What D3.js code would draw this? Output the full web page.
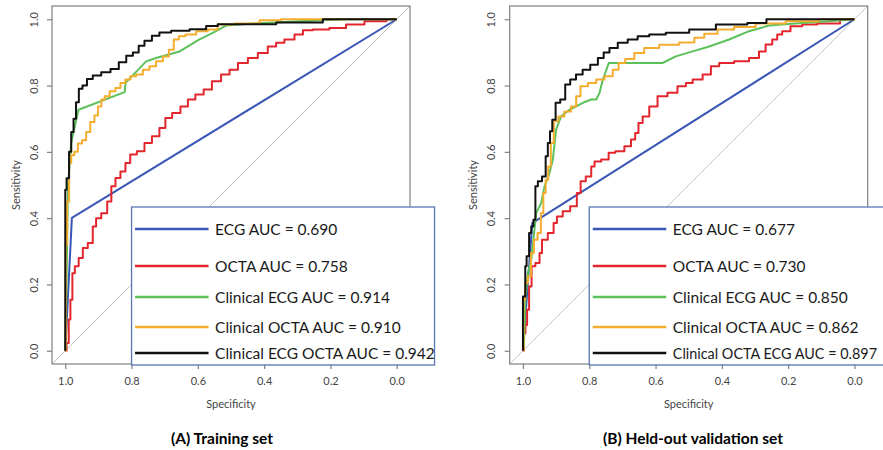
<!DOCTYPE html>
<html>
<head>
<meta charset="utf-8">
<script src="https://cdnjs.cloudflare.com/ajax/libs/d3/7.8.5/d3.min.js"></script>
<style>
    body { margin: 0; background: #fff; }
    svg { display: block; }
    text { font-family: Lato, "Open Sans", sans-serif; }
</style>
</head>
<body>
<div id="chart"></div>
<script>

// ROC points as [specificity, sensitivity]

// (A) Training set
var trainEcg = [[1, 0], [0.98, 0.401], [0, 1]];
var trainOcta = [[1, 0], [0.992, 0.023], [0.987, 0.094], [0.982, 0.154], [0.975, 0.234], [0.967, 0.255],
    [0.952, 0.28], [0.942, 0.31], [0.922, 0.325], [0.912, 0.375], [0.902, 0.40], [0.881, 0.415],
    [0.866, 0.45], [0.856, 0.496], [0.841, 0.521], [0.826, 0.541], [0.811, 0.566], [0.797, 0.592],
    [0.771, 0.602], [0.751, 0.627], [0.726, 0.647], [0.706, 0.672], [0.690, 0.702], [0.665, 0.717],
    [0.640, 0.737], [0.620, 0.758], [0.595, 0.773], [0.570, 0.788], [0.545, 0.813], [0.515, 0.833],
    [0.494, 0.848], [0.464, 0.868], [0.434, 0.883], [0.404, 0.898], [0.374, 0.918], [0.354, 0.929],
    [0.324, 0.939], [0.293, 0.954], [0.273, 0.967], [0.233, 0.969], [0.173, 0.974], [0.133, 0.984],
    [0.062, 0.994], [0, 1]];
var trainClinEcg = [[1, 0], [0.997, 0.154], [0.992, 0.496], [0.982, 0.627], [0.969, 0.687], [0.960, 0.727],
    [0.821, 0.780], [0.818, 0.808], [0.756, 0.873], [0.726, 0.883], [0.655, 0.903], [0.595, 0.939],
    [0.555, 0.959], [0.515, 0.981], [0.434, 0.987], [0.293, 0.994], [0.153, 1], [0, 1]];
var trainClinOcta = [[1, 0], [0.997, 0.32], [0.992, 0.45], [0.985, 0.566], [0.979, 0.59], [0.967, 0.60],
    [0.957, 0.625], [0.942, 0.635], [0.932, 0.66], [0.917, 0.69], [0.907, 0.71], [0.896, 0.737],
    [0.886, 0.758], [0.876, 0.768], [0.856, 0.783], [0.841, 0.793], [0.826, 0.808], [0.811, 0.818],
    [0.796, 0.828], [0.776, 0.833], [0.756, 0.848], [0.736, 0.858], [0.716, 0.873], [0.695, 0.888],
    [0.680, 0.908], [0.665, 0.939], [0.650, 0.949], [0.625, 0.954], [0.585, 0.964], [0.555, 0.969],
    [0.525, 0.984], [0.454, 0.987], [0.374, 0.997], [0.324, 1], [0, 1]];
var trainAll = [[1, 0], [1, 0.486], [0.992, 0.52], [0.985, 0.6], [0.979, 0.66], [0.971, 0.70], [0.964, 0.75],
    [0.954, 0.79], [0.942, 0.80], [0.927, 0.82], [0.907, 0.83], [0.876, 0.84], [0.851, 0.85],
    [0.826, 0.87], [0.806, 0.89], [0.786, 0.90], [0.771, 0.92], [0.751, 0.935], [0.726, 0.95],
    [0.706, 0.96], [0.655, 0.965], [0.595, 0.97], [0.555, 0.98], [0.525, 0.985], [0.434, 0.985],
    [0.293, 0.99], [0.153, 1], [0, 1]];
var trainLabels = ['ECG AUC = 0.690', 'OCTA AUC = 0.758', 'Clinical ECG AUC = 0.914',
    'Clinical OCTA AUC = 0.910', 'Clinical ECG OCTA AUC = 0.942'];

// (B) Held-out validation set
var validEcg = [[1, 0], [0.972, 0.385], [0, 1]];
var validOcta = [[1, 0], [0.995, 0.053], [0.990, 0.078], [0.985, 0.124], [0.978, 0.194], [0.970, 0.255],
    [0.955, 0.265], [0.945, 0.295], [0.940, 0.335], [0.910, 0.355], [0.905, 0.385], [0.890, 0.405],
    [0.870, 0.421], [0.845, 0.436], [0.830, 0.476], [0.822, 0.511], [0.799, 0.526], [0.789, 0.556],
    [0.779, 0.571], [0.749, 0.577], [0.734, 0.597], [0.709, 0.602], [0.679, 0.617], [0.669, 0.637],
    [0.654, 0.657], [0.649, 0.687], [0.629, 0.707], [0.609, 0.737], [0.579, 0.768], [0.549, 0.778],
    [0.519, 0.798], [0.498, 0.808], [0.478, 0.818], [0.438, 0.833], [0.428, 0.858], [0.388, 0.868],
    [0.338, 0.873], [0.298, 0.883], [0.278, 0.903], [0.258, 0.924], [0.238, 0.939], [0.228, 0.954],
    [0.208, 0.964], [0.178, 0.979], [0.137, 0.984], [0.087, 0.987], [0, 1]];
var validClinEcg = [[1, 0], [0.997, 0.02], [0.993, 0.154], [0.985, 0.234], [0.975, 0.275], [0.960, 0.415],
    [0.945, 0.446], [0.935, 0.496], [0.920, 0.536], [0.910, 0.576], [0.900, 0.667], [0.885, 0.707],
    [0.860, 0.727], [0.819, 0.748], [0.794, 0.758], [0.779, 0.758], [0.769, 0.778], [0.759, 0.818],
    [0.741, 0.868], [0.579, 0.868], [0.539, 0.888], [0.488, 0.903], [0.438, 0.918], [0.378, 0.939],
    [0.318, 0.964], [0.258, 0.981], [0.178, 0.987], [0.087, 0.993], [0, 1]];
var validClinOcta = [[1, 0], [0.997, 0.154], [0.990, 0.204], [0.980, 0.224], [0.972, 0.295], [0.962, 0.335],
    [0.950, 0.355], [0.942, 0.415], [0.935, 0.476], [0.928, 0.516], [0.920, 0.556], [0.912, 0.627],
    [0.902, 0.692], [0.885, 0.707], [0.865, 0.722], [0.845, 0.737], [0.834, 0.768], [0.819, 0.798],
    [0.789, 0.808], [0.769, 0.818], [0.739, 0.828], [0.719, 0.848], [0.704, 0.868], [0.679, 0.880],
    [0.649, 0.898], [0.619, 0.913], [0.559, 0.923], [0.498, 0.930], [0.468, 0.944], [0.438, 0.956],
    [0.388, 0.969], [0.338, 0.977], [0.258, 0.987], [0.157, 0.994], [0.057, 1], [0, 1]];
var validAll = [[1, 0], [1, 0.164], [0.993, 0.164], [0.993, 0.255], [0.985, 0.285], [0.978, 0.355],
    [0.972, 0.375], [0.965, 0.395], [0.960, 0.496], [0.950, 0.511], [0.935, 0.526], [0.928, 0.587],
    [0.922, 0.627], [0.915, 0.662], [0.908, 0.697], [0.895, 0.748], [0.880, 0.758], [0.865, 0.803],
    [0.850, 0.818], [0.830, 0.833], [0.810, 0.848], [0.784, 0.863], [0.764, 0.883], [0.749, 0.900],
    [0.729, 0.913], [0.699, 0.929], [0.669, 0.939], [0.639, 0.949], [0.599, 0.954], [0.539, 0.959],
    [0.458, 0.969], [0.378, 0.984], [0.268, 0.989], [0.263, 1], [0, 1]];
var validLabels = ['ECG AUC = 0.677', 'OCTA AUC = 0.730', 'Clinical ECG AUC = 0.850',
    'Clinical OCTA AUC = 0.862', 'Clinical OCTA ECG AUC = 0.897'];

var tickValues = [1.0, 0.8, 0.6, 0.4, 0.2, 0.0];
var seriesColors = ['#3a57b5', '#e3262d', '#5cc15a', '#f5ad2e', '#111111'];
var stepped = [false, true, false, true, true];

var width = 883, height = 450;

var svg = d3.select('#chart').append('svg')
    .attr('width', width)
    .attr('height', height)
;

function rocPanel(id, left, series, labels, caption, captionX) {

    // Plot box (R style, 4% padding around 0..1)
    var top = 6, boxW = 358, boxH = 358;
    var x = d3.scaleLinear().domain([1.04, -0.04]).range([left, left + boxW]);
    var y = d3.scaleLinear().domain([-0.04, 1.04]).range([top + boxH, top]);

    var g = svg.append('g').attr('class', 'panel-' + id);

    g.append('clipPath').attr('id', 'clip-' + id)
        .append('rect')
        .attr('x', left).attr('y', top)
        .attr('width', boxW).attr('height', boxH)
    ;

    // Reference diagonal
    g.append('line')
        .attr('clip-path', 'url(#clip-' + id + ')')
        .attr('x1', x(1.04)).attr('y1', y(-0.04))
        .attr('x2', x(-0.04)).attr('y2', y(1.04))
        .attr('stroke', '#c4c4c4')
        .attr('stroke-width', 1)
    ;

    // Curves
    series.forEach(function(s, i) {
        var line = d3.line()
            .x(function(d) { return x(d[0]); })
            .y(function(d) { return y(d[1]); })
            .curve(stepped[i] ? d3.curveStep : d3.curveLinear)
        ;
        g.append('path')
            .datum(s)
            .attr('clip-path', 'url(#clip-' + id + ')')
            .attr('d', line)
            .attr('fill', 'none')
            .attr('stroke', seriesColors[i])
            .attr('stroke-width', 2)
            .attr('stroke-linejoin', 'round')
        ;
    });

    // Box
    g.append('rect')
        .attr('x', left).attr('y', top)
        .attr('width', boxW).attr('height', boxH)
        .attr('fill', 'none')
        .attr('stroke', '#808080')
        .attr('stroke-width', 1.2)
    ;

    // Axes
    var xAxis = g.append('g')
        .attr('transform', 'translate(0,' + (top + boxH) + ')')
        .call(d3.axisBottom(x).tickValues(tickValues).tickFormat(d3.format('.1f')).tickSize(5).tickPadding(8))
    ;
    var yAxis = g.append('g')
        .attr('transform', 'translate(' + left + ',0)')
        .call(d3.axisLeft(y).tickValues(tickValues).tickFormat(d3.format('.1f')).tickSize(5))
    ;
    [xAxis, yAxis].forEach(function(a) {
        a.select('.domain').remove();
        a.selectAll('line').attr('stroke', '#808080').attr('stroke-width', 1.2);
        a.selectAll('text').attr('fill', '#444').style('font-size', '11px');
    });
    yAxis.selectAll('.tick text')
        .attr('x', null).attr('dy', null)
        .attr('text-anchor', 'middle')
        .attr('dominant-baseline', 'central')
        .attr('transform', 'translate(-19,0) rotate(-90)')
    ;

    // Axis titles
    g.append('text')
        .attr('x', left + boxW / 2).attr('y', 403)
        .attr('text-anchor', 'middle')
        .attr('dominant-baseline', 'central')
        .attr('fill', '#444')
        .style('font-size', '11px')
        .text('Specificity')
    ;
    g.append('text')
        .attr('transform', 'translate(' + (left - 37) + ',' + 185 + ') rotate(-90)')
        .attr('text-anchor', 'middle')
        .attr('dominant-baseline', 'central')
        .attr('fill', '#444')
        .style('font-size', '11px')
        .text('Sensitivity')
    ;

    // Legend box, laid over the plot (it runs past the right edge like the original)
    var lx = x(0.8), ly = 207;
    var legend = g.append('g').attr('transform', 'translate(' + lx + ',' + ly + ')');
    legend.append('rect')
        .attr('width', 303).attr('height', 158)
        .attr('fill', '#fff')
        .attr('stroke', '#5a76b5')
        .attr('stroke-width', 1.3)
    ;
    var rowY = [22, 59, 90, 120, 146];
    labels.forEach(function(label, i) {
        legend.append('line')
            .attr('x1', 3.5).attr('x2', 77)
            .attr('y1', rowY[i]).attr('y2', rowY[i])
            .attr('stroke', seriesColors[i])
            .attr('stroke-width', 2.5)
        ;
        var t = legend.append('text')
            .attr('x', 83.5).attr('y', rowY[i])
            .attr('dominant-baseline', 'central')
            .attr('fill', '#1a1a1a')
            .style('font-size', '15.5px')
            .text(label)
        ;
        // shrink a label that would run off the page
        var room = width - 6 - (lx + 83.5);
        var len = t.node().getComputedTextLength();
        if (len > room) {
            t.style('font-size', (15.5 * room / len).toFixed(2) + 'px');
        }
    });

    // Caption
    svg.append('text')
        .attr('x', captionX).attr('y', 438)
        .attr('text-anchor', 'middle')
        .attr('dominant-baseline', 'central')
        .style('font-size', '15.5px')
        .style('font-weight', 'bold')
        .text(caption)
    ;
}

rocPanel('a', 52, [trainEcg, trainOcta, trainClinEcg, trainClinOcta, trainAll], trainLabels, '(A) Training set', 222);
rocPanel('b', 509.7, [validEcg, validOcta, validClinEcg, validClinOcta, validAll], validLabels, '(B) Held-out validation set', 693);

</script>
</body>
</html>
